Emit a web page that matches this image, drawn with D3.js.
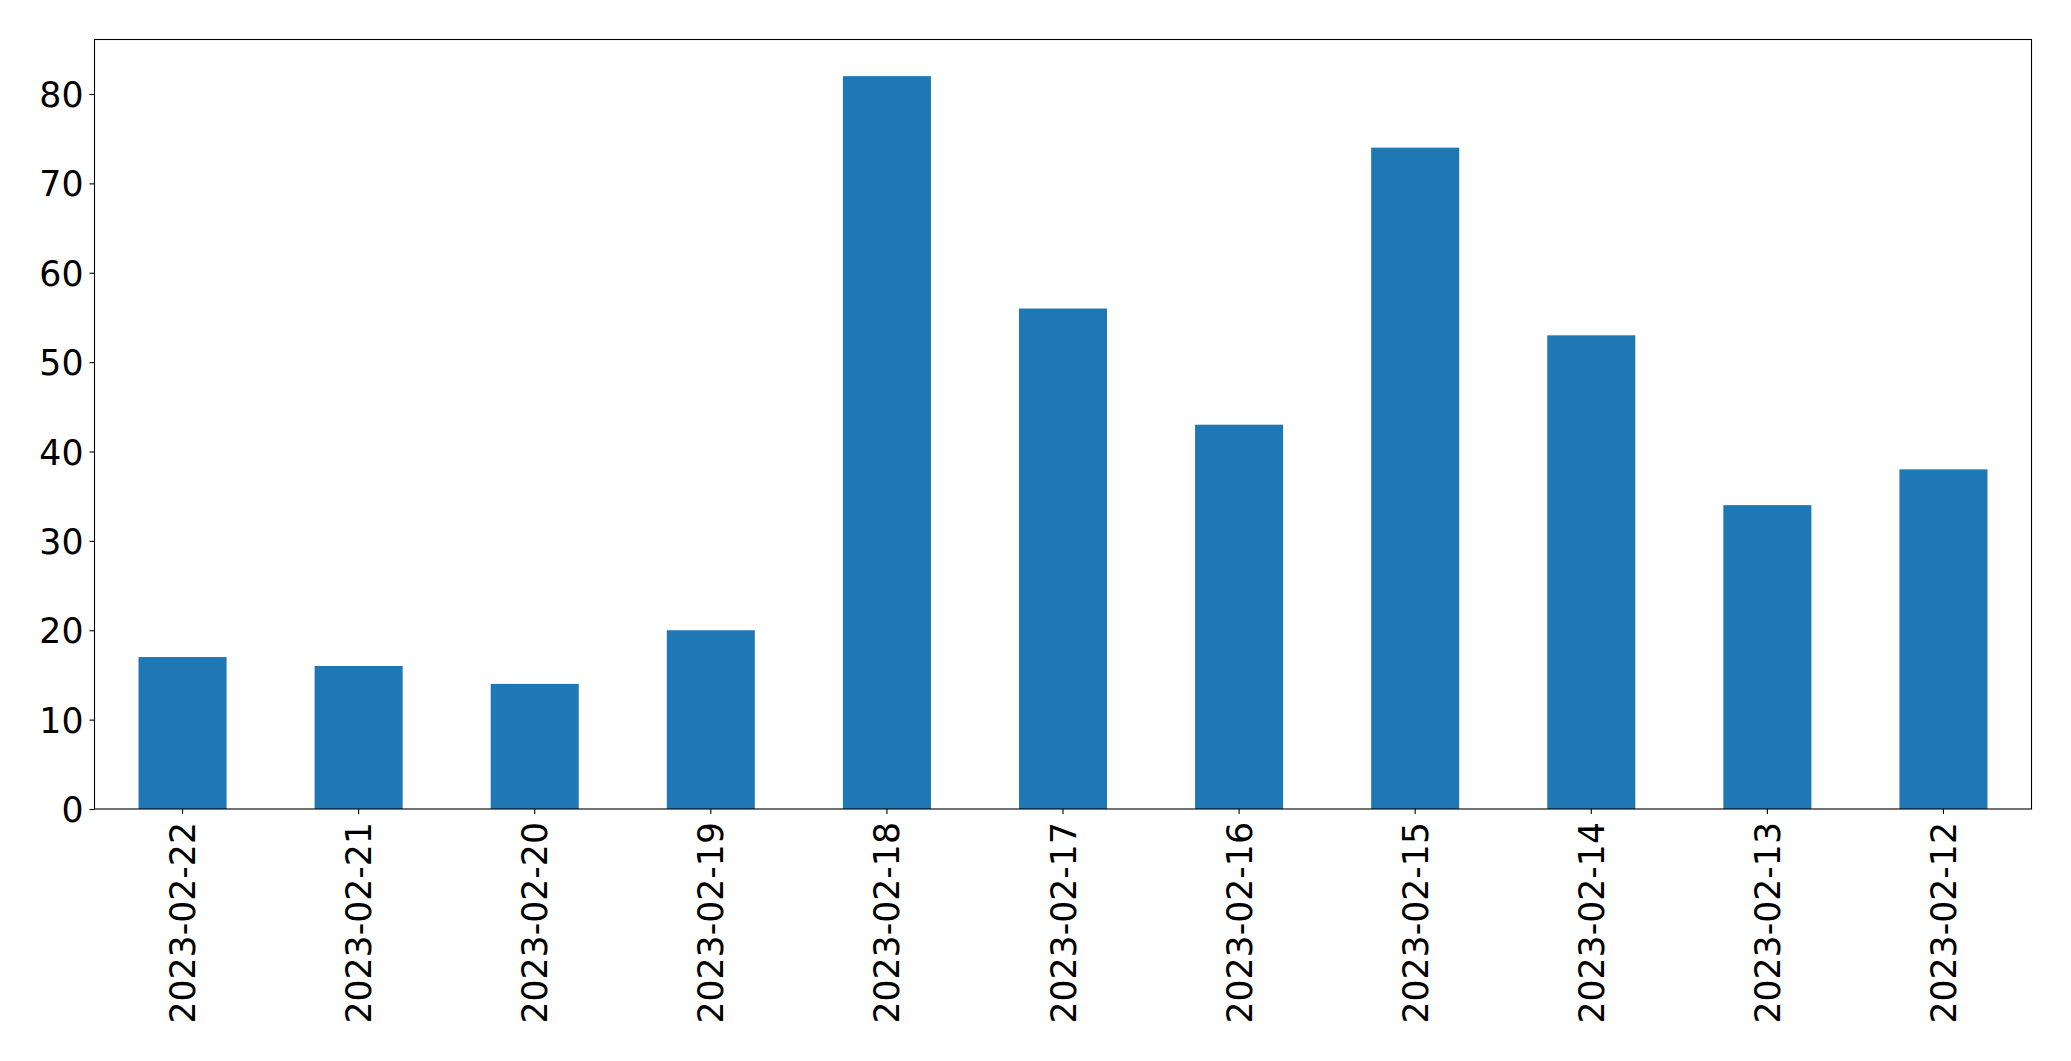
<!DOCTYPE html>
<html>
<head>
<meta charset="utf-8">
<script src="https://cdn.jsdelivr.net/npm/d3@7"></script>
<style>
  html, body { margin: 0; padding: 0; background: #fff; }
  svg { display: block; }
  text { font-family: "DejaVu Sans", sans-serif; fill: #000; }
</style>
</head>
<body>
<svg id="chart" width="2071" height="1061"></svg>
<script>
const categories = ["2023-02-22","2023-02-21","2023-02-20","2023-02-19","2023-02-18","2023-02-17","2023-02-16","2023-02-15","2023-02-14","2023-02-13","2023-02-12"];
const values = [17, 16, 14, 20, 82, 56, 43, 74, 53, 34, 38];
const yTicks = [0, 10, 20, 30, 40, 50, 60, 70, 80];

const W = 2071, H = 1061;
const m = { left: 94.5, right: W - 2031.5, top: 39.5, bottom: H - 809 };
const iw = W - m.left - m.right, ih = H - m.top - m.bottom;
const fs = "34.7px";

const svg = d3.select("#chart");
const g = svg.append("g").attr("transform", `translate(${m.left},${m.top})`);

const x = d3.scaleBand().domain(categories).range([0, iw]).paddingInner(0.5).paddingOuter(0.25);
const yMax = d3.max(values) * 1.05;
const y = d3.scaleLinear().domain([0, yMax]).range([ih, 0]);

g.selectAll("rect.bar").data(values).join("rect")
  .attr("class", "bar")
  .attr("x", (d, i) => x(categories[i]))
  .attr("width", x.bandwidth())
  .attr("y", d => y(d))
  .attr("height", d => ih - y(d))
  .attr("fill", "#1f77b4");

// Y axis
const yAxis = g.append("g").call(d3.axisLeft(y).tickValues(yTicks).tickSize(5).tickPadding(6).tickFormat(d3.format("d")));
yAxis.select(".domain").remove();
yAxis.selectAll("line").attr("stroke", "#000").attr("stroke-width", 1.1);
yAxis.selectAll("text").style("font-size", fs).attr("font-family", "DejaVu Sans").attr("dy", "0.36em");

// X axis
const xAxis = g.append("g").attr("transform", `translate(0,${ih})`)
  .call(d3.axisBottom(x).tickSize(5).tickPadding(0));
xAxis.select(".domain").remove();
xAxis.selectAll("line").attr("stroke", "#000").attr("stroke-width", 1.1);
xAxis.selectAll("text")
  .style("font-size", fs)
  .attr("font-family", "DejaVu Sans")
  .attr("text-anchor", "end")
  .attr("transform", "translate(0,13) rotate(-90)")
  .attr("x", 0).attr("y", 0).attr("dy", "0.36em");

// Frame
g.append("rect").attr("x", 0).attr("y", 0).attr("width", iw).attr("height", ih)
  .attr("fill", "none").attr("stroke", "#000").attr("stroke-width", 1.1);
</script>
</body>
</html>
